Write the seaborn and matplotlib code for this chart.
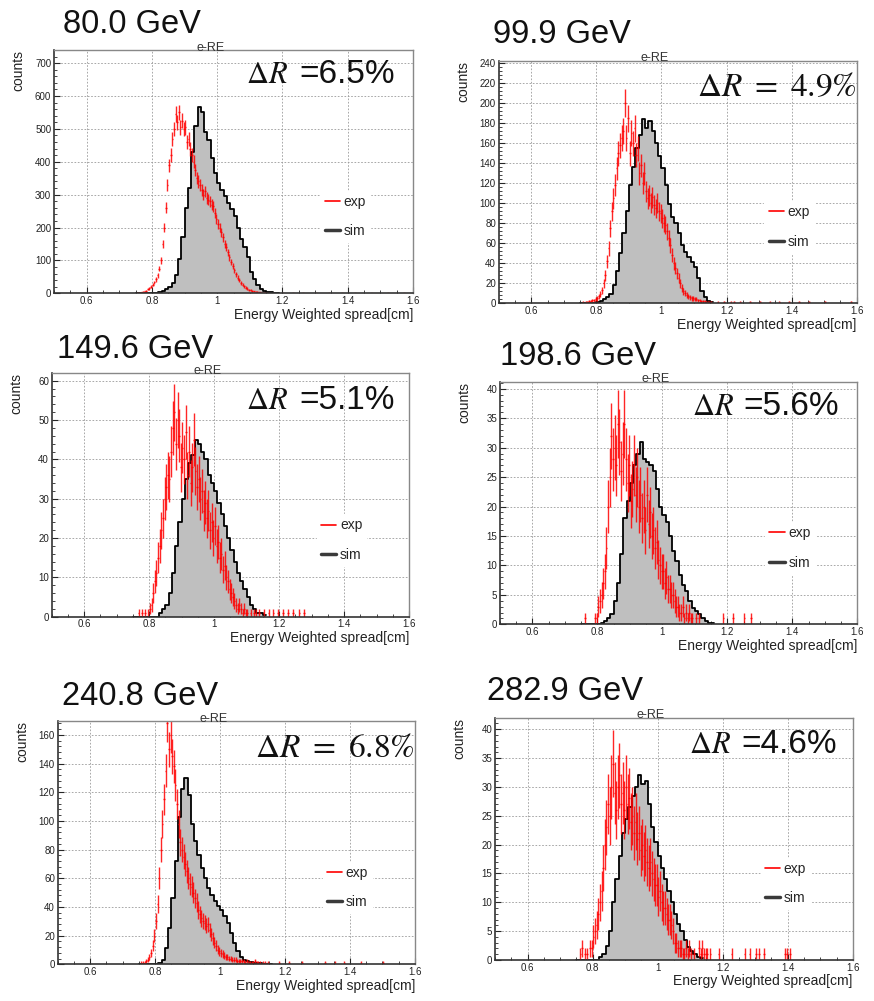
import numpy as np
import pandas as pd
import seaborn as sns
import matplotlib.pyplot as plt
from matplotlib.lines import Line2D
from matplotlib.ticker import MultipleLocator, AutoMinorLocator, FuncFormatter

# binning: first left edge, sim bin width, exp bin width
bin_start = 0.75
sim_bin = 0.01
exp_bin = 0.005

energies = ['80.0 GeV', '99.9 GeV', '149.6 GeV', '198.6 GeV', '240.8 GeV', '282.9 GeV']
dr_value = ['6.5%', '4.9%', '5.1%', '5.6%', '6.8%', '4.6%']
dr_serif = [False, True, False, False, True, False]
y_top = [740, 242.6, 61.9, 41.2, 169.8, 42.0]
y_step = [100, 20, 10, 5, 20, 5]

# exp counts per 0.005 bin starting at bin_start
exp_80 = [1, 2, 2, 3, 4, 6, 8, 12, 15, 20,
          26, 33, 42, 55, 75, 100, 150, 200, 260, 330,
          390, 420, 470, 500, 545, 520, 550, 505, 525, 500,
          505, 460, 470, 440, 420, 400, 375, 350, 340, 330,
          315, 300, 310, 290, 285, 280, 270, 265, 245, 225,
          210, 200, 185, 170, 150, 140, 125, 110, 95, 82,
          70, 58, 48, 40, 32, 26, 21, 17, 14, 11,
          9, 7, 6, 5, 4, 3, 3, 2, 2, 2, 1, 1]
exp_100 = [0, 1, 0, 1, 1, 2, 2, 3, 3, 4,
           5, 7, 9, 13, 20, 28, 42, 55, 75, 92,
           105, 118, 135, 150, 158, 165, 172, 200, 165, 185,
           150, 170, 160, 175, 148, 155, 130, 138, 120, 130,
           112, 105, 108, 100, 106, 98, 95, 100, 92, 90,
           85, 80, 78, 72, 65, 58, 48, 40, 35, 30,
           25, 20, 15, 12, 10, 8, 7, 6, 5, 5,
           4, 4, 3, 3, 2, 2, 2, 1, 1, 1, 1]
exp_150 = [0, 0, 0, 1, 0, 1, 0, 1, 0, 1,
           2, 3, 6, 9, 11, 15, 18, 22, 25, 30,
           33, 36, 35, 42, 48, 52, 44, 50, 46, 38,
           43, 40, 47, 36, 42, 34, 38, 45, 37, 33,
           35, 30, 32, 27, 29, 25, 27, 22, 24, 20,
           23, 18, 19, 15, 16, 12, 13, 10, 9, 7,
           6, 5, 4, 3, 2, 3, 2, 1, 2, 1,
           1, 0, 1, 0, 1, 1, 0, 1]
exp_200 = [0, 0, 1, 0, 0, 0, 0, 0, 1, 1,
           3, 4, 5, 7, 9, 13, 20, 25, 32, 28,
           30, 27, 34, 31, 26, 29, 34, 28, 24, 27,
           21, 23, 27, 22, 25, 20, 22, 18, 20, 16,
           22, 17, 19, 15, 16, 13, 14, 11, 10, 9,
           9, 7, 8, 6, 6, 5, 5, 4, 3, 3,
           2, 2, 3, 1, 2, 1, 2, 1, 1, 0,
           1, 0, 1]
exp_240 = [0, 1, 1, 1, 2, 3, 5, 8, 13, 20,
           30, 42, 60, 80, 98, 115, 135, 168, 150, 160,
           145, 138, 125, 112, 98, 85, 80, 75, 70, 65,
           60, 56, 54, 50, 46, 43, 38, 35, 32, 30,
           29, 27, 28, 24, 21, 18, 15, 13, 10, 9,
           8, 7, 6, 5, 5, 4, 4, 3, 3, 3,
           2, 2, 2, 2, 2, 1, 2, 1, 1, 1,
           1, 2, 1, 1, 1, 0, 1, 1, 0, 1]
exp_283 = [0, 0, 1, 2, 0, 1, 1, 0, 2, 2,
           4, 5, 6, 8, 10, 12, 16, 20, 23, 27,
           25, 30, 34, 29, 26, 30, 32, 27, 29, 26,
           30, 27, 28, 24, 25, 22, 24, 21, 22, 19,
           20, 18, 19, 17, 16, 17, 15, 14, 13, 13,
           11, 12, 10, 9, 9, 8, 7, 7, 6, 5,
           3, 3, 2, 2, 2, 1, 1, 2, 1, 2,
           1, 0, 1, 0, 0, 2, 1, 2, 1, 1, 1, 0, 1]

# single-count exp bins far in the tail (left edge)
tail_80 = [1.17, 1.2, 1.23, 1.26, 1.3, 1.34, 1.38, 1.42, 1.47, 1.52, 1.57]
tail_100 = [1.17, 1.19, 1.21, 1.22, 1.24, 1.27, 1.3, 1.33, 1.36, 1.39, 1.42, 1.45, 1.5, 1.58]
tail_150 = [1.15, 1.165, 1.18, 1.195, 1.21, 1.225, 1.24, 1.26, 1.275]
tail_200 = [1.185, 1.215, 1.25, 1.27]
tail_240 = [1.18, 1.21, 1.25, 1.32, 1.35, 1.38, 1.43, 1.5]
tail_283 = [1.185, 1.225, 1.265, 1.28, 1.3, 1.31, 1.325, 1.39, 1.395, 1.405]

# sim counts per 0.01 bin starting at bin_start
sim_80 = [0, 0, 0, 0, 0, 0, 0, 3, 8, 12, 18, 30, 55, 105, 170, 260, 320, 430, 510, 565,
          550, 490, 465, 410, 365, 335, 315, 295, 275, 255, 235, 200, 165, 140, 110, 65,
          42, 25, 14, 8, 5, 3, 2, 1]
sim_100 = [0, 0, 0, 0, 0, 1, 2, 4, 6, 9, 18, 32, 50, 70, 92, 118, 136, 155, 168, 184, 175,
           182, 172, 160, 147, 135, 118, 99, 86, 80, 70, 58, 51, 46, 41, 36, 25, 12, 6, 2, 1]
sim_150 = [0, 0, 0, 0, 0, 0, 0, 0, 1, 2, 3, 6, 11, 18, 24, 30, 35, 39, 41, 45, 44, 42, 40,
           36, 34, 32, 29, 26, 23, 20, 17, 14, 11, 9, 7, 5, 3, 2, 1, 1, 0.5]
sim_200 = [0, 0, 0, 0, 0, 0, 0.3, 0.6, 1, 1.7, 4, 7, 12, 18, 21, 24, 27, 29, 31, 28, 27.5,
           27, 26, 23, 20, 18.5, 17.4, 15, 12.4, 10.7, 8.4, 6.7, 5.6, 4, 2.8, 2.2, 1.7, 1,
           0.6, 0.3, 0.2]
sim_240 = [0, 0, 0, 0, 0, 0, 1, 3, 11, 25, 46, 72, 103, 122, 130, 118, 98, 86, 76, 67, 60,
           53, 48, 44, 41, 38, 34, 29, 22, 15, 9, 5, 3, 2, 1.5, 1, 1, 0.7, 0.5, 0.4, 0.3]
sim_283 = [0, 0, 0, 0, 0, 0, 0, 0.5, 1, 2.5, 5, 10, 14, 18, 22, 24.5, 26.5, 28.5, 30, 32,
           30.5, 31, 27, 23, 20.5, 18, 16, 14, 12, 10, 8, 6.2, 5, 3.4, 2.2, 1.6, 1, 0.5, 0.3]

exp_all = [exp_80, exp_100, exp_150, exp_200, exp_240, exp_283]
sim_all = [sim_80, sim_100, sim_150, sim_200, sim_240, sim_283]
tail_all = [tail_80, tail_100, tail_150, tail_200, tail_240, tail_283]

sns.set_theme(style='white')
plt.rcParams['font.family'] = ['Liberation Sans', 'DejaVu Sans']
plt.rcParams['mathtext.fontset'] = 'stix'

fig = plt.figure(figsize=(8.74, 10.01), dpi=100)
fig.patch.set_facecolor('white')

# axes rectangles in figure fraction
rects = [(0.0618, 0.707, 0.4108, 0.2431), (0.5706, 0.697, 0.4096, 0.2424),
         (0.0592, 0.3839, 0.4088, 0.2432), (0.5721, 0.3763, 0.4088, 0.2424),
         (0.0660, 0.0367, 0.4088, 0.2431), (0.5664, 0.0410, 0.4093, 0.2420)]
title_pos = [(0.0721, 0.967), (0.564, 0.957), (0.0652, 0.6424),
             (0.572, 0.6354), (0.0709, 0.2957), (0.557, 0.3007)]
# delta R label: left of Delta, right end, baseline (axes fraction)
dr_pos = [(0.535, 0.95, 0.863), (0.565, 1.0, 0.854), (0.544, 0.959, 0.852),
          (0.537, 0.95, 0.863), (0.566, 1.0, 0.851), (0.543, 0.955, 0.856)]

for i in range(6):
    ax = fig.add_axes(rects[i])
    sim = np.array(sim_all[i], float)
    hi = round(bin_start + sim_bin * len(sim), 4)
    df = pd.DataFrame({'x': bin_start + sim_bin * (np.arange(len(sim)) + 0.5), 'w': sim})
    sns.histplot(data=df, x='x', weights='w', binwidth=sim_bin, binrange=(bin_start, hi),
                 element='step', fill=True, color='#bfbfbf', alpha=1, linewidth=0, ax=ax)
    sns.histplot(data=df, x='x', weights='w', binwidth=sim_bin, binrange=(bin_start, hi),
                 element='step', fill=False, color='black', linewidth=1.3, ax=ax)

    ev = np.array(exp_all[i], float)
    ex = bin_start + exp_bin * (np.arange(len(ev)) + 0.5)
    tx = np.array(tail_all[i]) + exp_bin / 2
    x = np.concatenate([ex, tx])
    y = np.concatenate([ev, np.ones(len(tx))])
    keep = y > 0
    ax.errorbar(x[keep], y[keep], xerr=exp_bin / 2, yerr=np.sqrt(y[keep]), fmt='none',
                ecolor='red', elinewidth=1.0, capsize=0, alpha=0.85)

    ax.set_xlim(0.5, 1.6)
    ax.set_ylim(0, y_top[i])
    ax.xaxis.set_major_locator(MultipleLocator(0.2))
    ax.xaxis.set_minor_locator(MultipleLocator(0.05))
    ax.yaxis.set_major_locator(MultipleLocator(y_step[i]))
    ax.yaxis.set_minor_locator(AutoMinorLocator(5))
    ax.xaxis.set_major_formatter(FuncFormatter(lambda v, p: f'{v:.10g}'))
    ax.tick_params(which='both', direction='in', top=False, right=False,
                   bottom=True, left=True, labelsize=7, pad=2, labelcolor='#222222')
    ax.tick_params(which='major', length=4.5, width=0.8)
    ax.tick_params(which='minor', length=2.5, width=0.6)
    ax.grid(True, which='major', ls=(0, (2, 2)), color='#9a9a9a', lw=0.6)
    for s in ['left', 'bottom']:
        ax.spines[s].set_color('#333333')
        ax.spines[s].set_linewidth(1.2)
    for s in ['top', 'right']:
        ax.spines[s].set_color('#888888')
        ax.spines[s].set_linewidth(1.0)

    ax.set_xlabel('Energy Weighted spread[cm]', fontsize=10, loc='right', color='#222222')
    ax.xaxis.set_label_coords(1.0, -0.06)
    ax.set_ylabel('counts', fontsize=10, loc='top', color='#222222')
    ax.yaxis.set_label_coords(-0.08, 1.0)

    ax.text(0.435, 0.985, 'e-RE', transform=ax.transAxes, ha='center', va='bottom',
            fontsize=9, color='#333333')
    x_left, x_right, y_base = dr_pos[i]
    if dr_serif[i]:
        ax.text(x_right, y_base, r'$\Delta R\ =\ ' + dr_value[i].replace('%', r'\%') + '$',
                transform=ax.transAxes, ha='right', va='baseline', fontsize=24,
                color='#111111')
    else:
        ax.text(x_left, y_base, r'$\Delta R$', transform=ax.transAxes, ha='left',
                va='baseline', fontsize=22, color='#111111')
        ax.text(x_right, y_base, '=' + dr_value[i], transform=ax.transAxes, ha='right',
                va='baseline', fontsize=24, color='#111111')

    handles = [Line2D([], [], color='red', lw=1.2), Line2D([], [], color='#3a3a3a', lw=2.5)]
    ax.legend(handles, ['exp', 'sim'], loc='center left', bbox_to_anchor=(0.723, 0.315),
              frameon=True, fancybox=False, framealpha=1, edgecolor='white',
              facecolor='white', fontsize=10, handlelength=1.1, handletextpad=0.25,
              labelspacing=1.1, borderpad=0.3)

    fig.text(title_pos[i][0], title_pos[i][1], energies[i], fontsize=23.5,
             ha='left', va='baseline', color='#111111')

fig.savefig('out.png', dpi=100, facecolor='white')
